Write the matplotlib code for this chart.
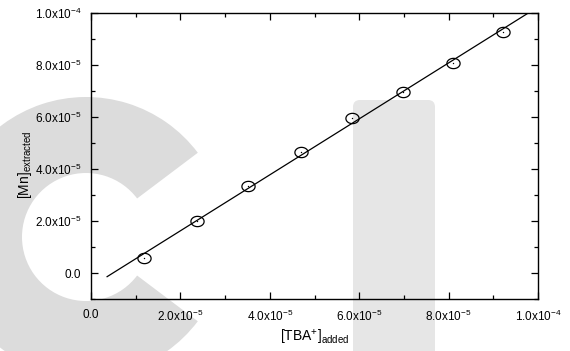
import numpy as np
import matplotlib
matplotlib.use("Agg")
import matplotlib.pyplot as plt
import matplotlib.transforms as mtransforms
from matplotlib.patches import Wedge, FancyBboxPatch
from matplotlib.path import Path
from matplotlib.ticker import MultipleLocator, FuncFormatter

# ------------------------------------------------------------
# data
# ------------------------------------------------------------
tba_added = [1.19e-5, 2.37e-5, 3.52e-5, 4.69e-5, 5.84e-5, 6.97e-5, 8.10e-5, 9.22e-5]
mn_extracted = [0.56e-5, 2.00e-5, 3.34e-5, 4.65e-5, 5.98e-5, 6.97e-5, 8.08e-5, 9.28e-5]
fit_range = [3.6e-6, 1.0e-4]

x_label = r"[TBA$^{+}$]$_{\mathrm{added}}$"
y_label = r"[Mn]$_{\mathrm{extracted}}$"

plt.rcParams["font.family"] = ["Liberation Sans", "DejaVu Sans"]
plt.rcParams["mathtext.fontset"] = "custom"
plt.rcParams["mathtext.rm"] = "Liberation Sans"
plt.rcParams["mathtext.it"] = "Liberation Sans:italic"


def sci_label(v, pos):
    if abs(v) < 1e-12:
        return "0.0"
    e = int(np.floor(np.log10(abs(v)) + 1e-9))
    m = v / 10**e
    return r"%.1fx10$^{\mathregular{%d}}$" % (m, e)


# slightly flattened open circle, as in the scanned figure
t = np.linspace(0, 2 * np.pi, 60)
ellipse = Path(np.column_stack([np.cos(t), 0.78 * np.sin(t)]), closed=True)

fig = plt.figure(figsize=(5.7, 3.51), dpi=100)
px = mtransforms.Affine2D().scale(1 / 100) + fig.dpi_scale_trans

# background watermark (grey "C" and "I")
c_shape = Wedge((86, 114), 140, 37, 323, width=76, transform=px,
                facecolor="#dcdcdc", edgecolor="none", zorder=-2)
i_shape = FancyBboxPatch((353, -20), 82, 271, boxstyle="round,pad=0,rounding_size=7",
                         transform=px, facecolor="#e6e6e6", edgecolor="none", zorder=-2)
fig.add_artist(c_shape)
fig.add_artist(i_shape)

ax = fig.add_axes([91 / 570, 1 - 299 / 351, 447 / 570, 286 / 351])
ax.set_facecolor("none")

# linear fit
slope, icpt = np.polyfit(tba_added, mn_extracted, 1)
xf = np.array(fit_range)
ax.plot(xf, slope * xf + icpt, color="black", lw=0.9)

ax.plot(tba_added, mn_extracted, linestyle="none", marker=ellipse, ms=9.5,
        mfc="none", mec="black", mew=0.9)
ax.plot(tba_added, mn_extracted, linestyle="none", marker="o", ms=1,
        mfc="black", mec="none")

ax.set_xlim(0, 1.0e-4)
ax.set_ylim(-1.0e-5, 1.0e-4)
ax.xaxis.set_major_locator(MultipleLocator(2e-5))
ax.xaxis.set_minor_locator(MultipleLocator(1e-5))
ax.yaxis.set_major_locator(MultipleLocator(2e-5))
ax.yaxis.set_minor_locator(MultipleLocator(1e-5))
ax.xaxis.set_major_formatter(FuncFormatter(sci_label))
ax.yaxis.set_major_formatter(FuncFormatter(sci_label))

ax.tick_params(which="both", direction="in", top=True, right=True, width=0.9,
               labelsize=8.5)
ax.tick_params(which="major", length=5, pad=7)
ax.tick_params(which="minor", length=3)
for s in ax.spines.values():
    s.set_linewidth(1.0)

ax.set_xlabel(x_label, fontsize=10, labelpad=3)
ax.set_ylabel(y_label, fontsize=10)
ax.yaxis.set_label_coords(-0.128, 0.47)

fig.savefig("out.png", dpi=100)
